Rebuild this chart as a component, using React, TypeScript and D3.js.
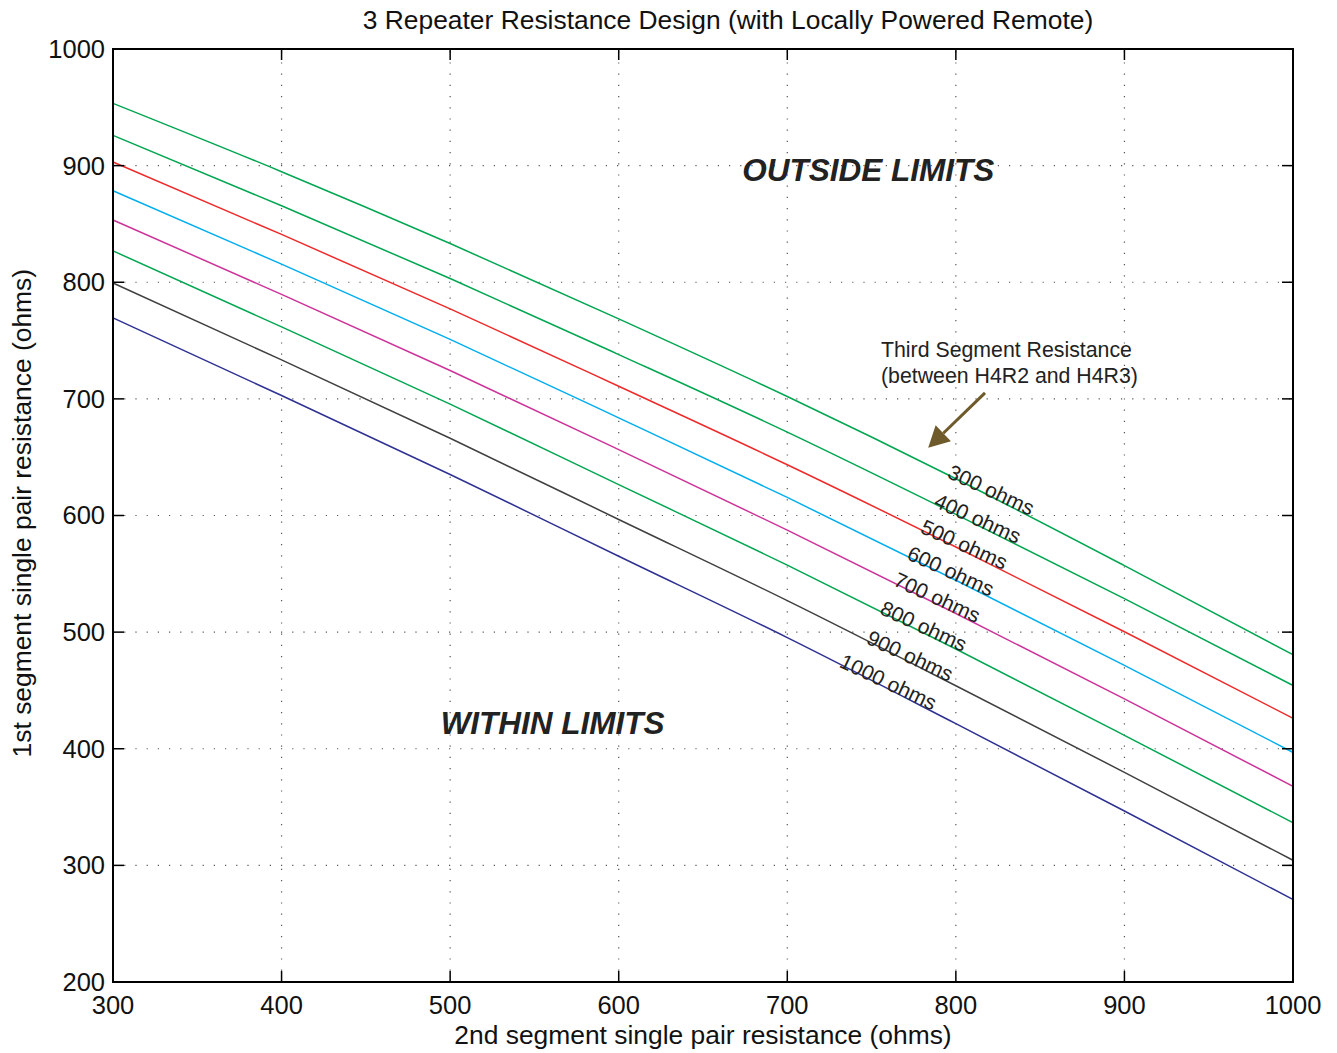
import React, { useEffect, useRef } from 'react';
import * as d3 from 'd3';

// third segment resistance (ohms) for each line
const segments = [300, 400, 500, 600, 700, 800, 900, 1000];
const lineColors = ['#00a651', '#00a651', '#ee2a2a', '#00aeef', '#cc3399', '#00a651', '#404040', '#2e3192'];
// 2nd segment resistance where each curve was read
const xRead = [300, 400, 500, 600, 700, 800, 900, 1000];
// 1st segment resistance, one list per curve
const r300 = [953.4, 894.8, 833.2, 768.6, 702.0, 631.5, 557.0, 480.6];
const r400 = [925.9, 865.6, 803.2, 738.0, 671.5, 601.0, 528.7, 454.3];
const r500 = [903.1, 841.0, 777.2, 710.8, 643.5, 573.0, 500.3, 426.1];
const r600 = [878.5, 815.5, 751.0, 683.7, 615.5, 544.5, 471.5, 396.9];
const r700 = [853.4, 789.6, 724.3, 656.5, 587.5, 516.0, 442.7, 367.8];
const r800 = [826.9, 761.7, 695.5, 626.5, 557.5, 485.5, 411.5, 336.6];
const r900 = [799.4, 733.4, 666.2, 596.6, 527.0, 454.0, 379.8, 304.4];
const r1000 = [769.4, 702.9, 635.2, 565.1, 495.3, 421.5, 346.6, 270.7];
const curves = [r300, r400, r500, r600, r700, r800, r900, r1000];
// where each label starts along its curve (x, ohms)
const labelX = [795, 787, 779, 771, 763, 755, 747, 731];

const xTicks = [300, 400, 500, 600, 700, 800, 900, 1000];
const yTicks = [200, 300, 400, 500, 600, 700, 800, 900, 1000];

const App = () => {
  const svgRef = useRef<SVGSVGElement>(null);

  useEffect(() => {
    const width = 1337;
    const height = 1053;
    const margin = { top: 49, right: 44, bottom: 71, left: 113 };
    const font = '"Liberation Sans", Arial, Helvetica, sans-serif';

    const svg = d3.select(svgRef.current)
      .attr('width', width)
      .attr('height', height)
      .style('background', '#ffffff');
    svg.selectAll('*').remove();

    const x = d3.scaleLinear().domain([300, 1000]).range([margin.left, width - margin.right]);
    const y = d3.scaleLinear().domain([200, 1000]).range([height - margin.bottom, margin.top]);

    // dotted grid
    svg.append('g')
      .selectAll('line')
      .data(xTicks.slice(1, -1))
      .enter().append('line')
      .attr('x1', d => x(d)).attr('x2', d => x(d))
      .attr('y1', y(200)).attr('y2', y(1000))
      .attr('stroke', '#555')
      .attr('stroke-width', 1.2)
      .attr('stroke-dasharray', '1.2,10');

    svg.append('g')
      .selectAll('line')
      .data(yTicks.slice(1, -1))
      .enter().append('line')
      .attr('y1', d => y(d)).attr('y2', d => y(d))
      .attr('x1', x(300)).attr('x2', x(1000))
      .attr('stroke', '#555')
      .attr('stroke-width', 1.2)
      .attr('stroke-dasharray', '1.2,10');

    // data curves
    const line = d3.line<[number, number]>()
      .x(d => x(d[0]))
      .y(d => y(d[1]))
      .curve(d3.curveMonotoneX);

    // find the point on a path whose x is px, plus the local angle
    const pointAt = (node: SVGPathElement, px: number) => {
      const total = node.getTotalLength();
      let lo = 0, hi = total;
      for (let k = 0; k < 40; k++) {
        const mid = (lo + hi) / 2;
        if (node.getPointAtLength(mid).x < px) lo = mid; else hi = mid;
      }
      const p = node.getPointAtLength(lo);
      const q = node.getPointAtLength(Math.min(total, lo + 40));
      return { x: p.x, y: p.y, angle: Math.atan2(q.y - p.y, q.x - p.x) * 180 / Math.PI };
    };

    segments.forEach((s, i) => {
      const pts: [number, number][] = xRead.map((xv, j) => [xv, curves[i][j]]);
      const path = svg.append('path')
        .datum(pts)
        .attr('fill', 'none')
        .attr('stroke', lineColors[i])
        .attr('stroke-width', 1.5)
        .attr('d', line);

      const p = pointAt(path.node() as SVGPathElement, x(labelX[i]));
      svg.append('text')
        .attr('transform', `translate(${p.x},${p.y}) rotate(${p.angle - 2})`)
        .attr('dy', 3)
        .attr('font-family', font)
        .attr('font-size', 21)
        .attr('fill', '#222')
        .text(`${s} ohms`);
    });

    // frame
    svg.append('rect')
      .attr('x', x(300)).attr('y', y(1000))
      .attr('width', x(1000) - x(300)).attr('height', y(200) - y(1000))
      .attr('fill', 'none')
      .attr('stroke', '#000')
      .attr('stroke-width', 2);

    // tick marks (inside, on all four sides)
    const tl = 11;
    xTicks.forEach(t => {
      svg.append('line').attr('x1', x(t)).attr('x2', x(t)).attr('y1', y(200)).attr('y2', y(200) - tl)
        .attr('stroke', '#000').attr('stroke-width', 1.5);
      svg.append('line').attr('x1', x(t)).attr('x2', x(t)).attr('y1', y(1000)).attr('y2', y(1000) + tl)
        .attr('stroke', '#000').attr('stroke-width', 1.5);
    });
    yTicks.forEach(t => {
      svg.append('line').attr('y1', y(t)).attr('y2', y(t)).attr('x1', x(300)).attr('x2', x(300) + tl)
        .attr('stroke', '#000').attr('stroke-width', 1.5);
      svg.append('line').attr('y1', y(t)).attr('y2', y(t)).attr('x1', x(1000)).attr('x2', x(1000) - tl)
        .attr('stroke', '#000').attr('stroke-width', 1.5);
    });

    // tick labels
    svg.append('g')
      .selectAll('text')
      .data(xTicks)
      .enter().append('text')
      .attr('x', d => x(d))
      .attr('y', y(200) + 32)
      .attr('text-anchor', 'middle')
      .attr('font-family', font)
      .attr('font-size', 25.5)
      .attr('fill', '#111')
      .text(d => d);

    svg.append('g')
      .selectAll('text')
      .data(yTicks)
      .enter().append('text')
      .attr('x', x(300) - 8)
      .attr('y', d => y(d))
      .attr('dy', '0.35em')
      .attr('text-anchor', 'end')
      .attr('font-family', font)
      .attr('font-size', 25.5)
      .attr('fill', '#111')
      .text(d => d);

    // axis titles
    svg.append('text')
      .attr('x', x(650))
      .attr('y', height - 9)
      .attr('text-anchor', 'middle')
      .attr('font-family', font)
      .attr('font-size', 26.4)
      .attr('fill', '#111')
      .text('2nd segment single pair resistance (ohms)');

    svg.append('text')
      .attr('transform', `translate(31,${y(602)}) rotate(-90)`)
      .attr('text-anchor', 'middle')
      .attr('font-family', font)
      .attr('font-size', 26.4)
      .attr('fill', '#111')
      .text('1st segment single pair resistance (ohms)');

    svg.append('text')
      .attr('x', 728)
      .attr('y', 29)
      .attr('text-anchor', 'middle')
      .attr('font-family', font)
      .attr('font-size', 26.4)
      .attr('fill', '#111')
      .text('3 Repeater Resistance Design (with Locally Powered Remote)');

    // region labels
    svg.append('text')
      .attr('x', x(748))
      .attr('y', y(887))
      .attr('text-anchor', 'middle')
      .attr('font-family', font)
      .attr('font-size', 31.5)
      .attr('font-weight', 'bold')
      .attr('font-style', 'italic')
      .attr('fill', '#222')
      .text('OUTSIDE LIMITS');

    svg.append('text')
      .attr('x', x(560.8))
      .attr('y', y(413))
      .attr('text-anchor', 'middle')
      .attr('font-family', font)
      .attr('font-size', 31.5)
      .attr('font-weight', 'bold')
      .attr('font-style', 'italic')
      .attr('fill', '#222')
      .text('WITHIN LIMITS');

    // annotation
    svg.append('text')
      .attr('x', x(755.6))
      .attr('y', y(736.3))
      .attr('font-family', font)
      .attr('font-size', 21.3)
      .attr('fill', '#222')
      .text('Third Segment Resistance');
    svg.append('text')
      .attr('x', x(755.6))
      .attr('y', y(714))
      .attr('font-family', font)
      .attr('font-size', 21.3)
      .attr('fill', '#222')
      .text('(between H4R2 and H4R3)');

    const ax0 = x(817.3), ay0 = y(705.2), ax1 = x(783.6), ay1 = y(658.0);
    const ang = Math.atan2(ay1 - ay0, ax1 - ax0);
    const headLen = 21, headW = 11;
    const bx = ax1 - headLen * Math.cos(ang), by = ay1 - headLen * Math.sin(ang);
    svg.append('line')
      .attr('x1', ax0).attr('y1', ay0).attr('x2', bx).attr('y2', by)
      .attr('stroke', '#6e5a2a').attr('stroke-width', 3);
    const px = -Math.sin(ang) * headW, py = Math.cos(ang) * headW;
    svg.append('path')
      .attr('d', `M${ax1},${ay1}L${bx + px},${by + py}L${bx - px},${by - py}Z`)
      .attr('fill', '#6e5a2a');
  }, []);

  return (
    <svg ref={svgRef} style={{ position: 'absolute', left: 0, top: 0 }}></svg>
  );
};

export default App;
